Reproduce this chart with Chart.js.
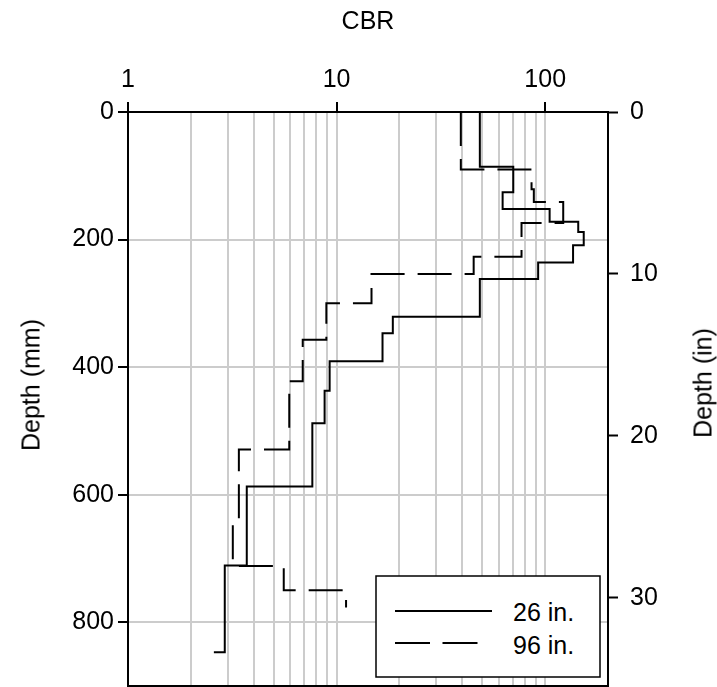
<!DOCTYPE html>
<html>
<head>
<meta charset="utf-8">
<script src="https://cdn.jsdelivr.net/npm/chart.js@4.4.1/dist/chart.umd.min.js"></script>
<style>
html,body{margin:0;padding:0;background:#fff;}
#wrap{position:relative;width:717px;height:687px;overflow:hidden;font-family:"Liberation Sans",Arial,sans-serif;color:#000;}
#c{position:absolute;left:0;top:0;}
.ytitle{position:absolute;font-size:25px;white-space:nowrap;line-height:1;transform:translate(-50%,-50%) rotate(-90deg);}
#legend{position:absolute;left:375px;top:575px;}
</style>
</head>
<body>
<div id="wrap">
<canvas id="c" width="717" height="687"></canvas>
<div class="ytitle" style="left:31px;top:385px;">Depth (mm)</div>
<div class="ytitle" style="left:703px;top:383px;">Depth (in)</div>
<svg id="legend" width="227" height="104" xmlns="http://www.w3.org/2000/svg">
  <rect x="1" y="1" width="224" height="101" fill="#fff" stroke="#000" stroke-width="1.5"/>
  <line x1="20" y1="36" x2="117" y2="36" stroke="#000" stroke-width="2"/>
  <line x1="20" y1="68" x2="104" y2="68" stroke="#000" stroke-width="2" stroke-dasharray="35 12.5"/>
  <text x="138" y="45.5" font-family="Liberation Sans, Arial, sans-serif" font-size="25" fill="#000">26 in.</text>
  <text x="138" y="79" font-family="Liberation Sans, Arial, sans-serif" font-size="25" fill="#000">96 in.</text>
</svg>
</div>
<script>
// ---- data ----
const seriesNames = ['26 in.', '96 in.'];
// 26 in.: layer CBR values and depths (mm) where each step ends
const depth26 = [0, 86, 126, 152, 172, 188, 209, 236, 262, 321, 347, 391, 437, 488, 587, 711, 847];
const cbr26   = [48.6, 70.3, 62.5, 105, 144, 153, 136, 92.5, 48.6, 18.6, 16.6, 9.26, 8.76, 7.65, 3.71, 2.91, 2.58];
// 96 in.
const depth96 = [0, 90, 121, 141, 174, 227, 254, 300, 357, 422, 529, 644, 712, 750, 777];
const cbr96   = [39.4, 86, 88.2, 122, 77, 45.4, 14.7, 8.93, 6.88, 5.93, 3.40, 3.18, 5.58, 11.1, 11.1];
// ticks
const cbrLabelTicks = [1, 10, 100];
const cbrGridTicks = [1, 2, 3, 4, 5, 6, 7, 8, 9, 10, 20, 30, 40, 50, 60, 70, 80, 90, 100, 200];
const depthTicksMm = [0, 200, 400, 600, 800];
const depthTicksIn = [0, 10, 20, 30];
const depthMaxMm = 900;
const mmPerInch = 25.4;

const toPts = (xs, ys) => xs.map((v, i) => ({x: v, y: ys[i]}));
const GRID = '#cccccc';
const FONT = {family: '"Liberation Sans", Arial, sans-serif', size: 25};
const noPad = s => { s.paddingTop = 0; s.paddingBottom = 0; s.paddingLeft = 0; s.paddingRight = 0; };

new Chart(document.getElementById('c'), {
  type: 'scatter',
  data: {
    datasets: [
      {label: seriesNames[0], data: toPts(cbr26, depth26), showLine: true, stepped: 'after',
       borderColor: '#000', borderWidth: 2, pointRadius: 0, fill: false, xAxisID: 'x', yAxisID: 'y'},
      {label: seriesNames[1], data: toPts(cbr96, depth96), showLine: true, stepped: 'after',
       borderColor: '#000', borderWidth: 2, borderDash: [34, 13], pointRadius: 0, fill: false, xAxisID: 'x', yAxisID: 'y'}
    ]
  },
  options: {
    responsive: false,
    animation: false,
    layout: {autoPadding: false, padding: {top: 0, left: 0, right: 0, bottom: 1}},
    plugins: {legend: {display: false}, tooltip: {enabled: false}},
    scales: {
      x: {
        type: 'logarithmic', position: 'top', min: 1, max: 200,
        afterBuildTicks: s => { s.ticks = cbrGridTicks.map(v => ({value: v})); },
        afterFit: s => { s.height = 112; noPad(s); },
        ticks: {autoSkip: false, maxRotation: 0, padding: 7, font: FONT, color: '#000',
                callback: v => cbrLabelTicks.includes(v) ? String(v) : ''},
        grid: {
          color: c => (c.tick && (c.tick.value === 1 || c.tick.value === 200)) ? 'rgba(0,0,0,0)' : GRID,
          lineWidth: 2, tickLength: 10, tickWidth: 2,
          tickColor: c => (c.tick && cbrLabelTicks.includes(c.tick.value)) ? '#000' : 'rgba(0,0,0,0)'
        },
        border: {display: true, color: '#000', width: 2},
        title: {display: true, text: 'CBR', font: FONT, color: '#000', padding: {top: 7, bottom: 0}}
      },
      y: {
        type: 'linear', position: 'left', reverse: true, min: 0, max: depthMaxMm,
        afterBuildTicks: s => { s.ticks = depthTicksMm.map(v => ({value: v})); },
        afterFit: s => { s.width = 128; noPad(s); },
        ticks: {padding: 4, font: FONT, color: '#000'},
        grid: {color: c => (c.tick && c.tick.value === 0) ? 'rgba(0,0,0,0)' : GRID,
               lineWidth: 2, tickLength: 10, tickWidth: 2, tickColor: '#000'},
        border: {display: true, color: '#000', width: 2}
      },
      y2: {
        type: 'linear', position: 'right', reverse: true, min: 0, max: depthMaxMm / mmPerInch,
        afterBuildTicks: s => { s.ticks = depthTicksIn.map(v => ({value: v})); },
        afterFit: s => { s.width = 109; noPad(s); },
        ticks: {padding: 12, font: FONT, color: '#000'},
        grid: {drawOnChartArea: false, tickLength: 10, tickWidth: 2, tickColor: '#000'},
        border: {display: true, color: '#000', width: 2}
      },
      x2: {
        type: 'linear', position: 'bottom', display: true,
        afterFit: s => { s.height = 0; noPad(s); },
        ticks: {display: false},
        grid: {display: false, drawTicks: false},
        border: {display: true, color: '#000', width: 2}
      }
    }
  }
});
</script>
</body>
</html>
